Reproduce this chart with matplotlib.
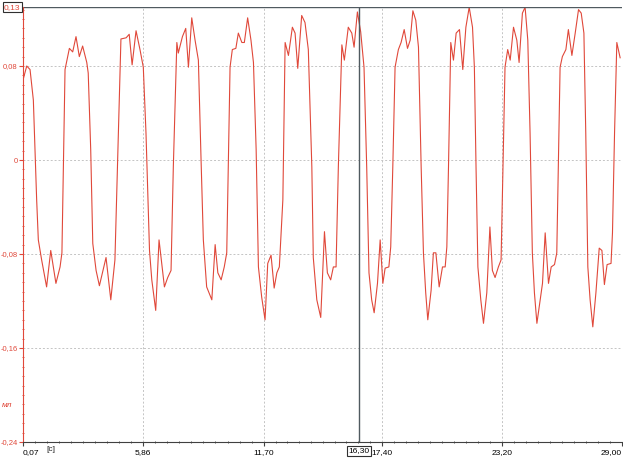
import numpy as np
import matplotlib
matplotlib.use('Agg')
import matplotlib.pyplot as plt

plt.rcParams['font.family'] = ['Liberation Sans Narrow', 'Liberation Sans', 'DejaVu Sans']

# время, с
t = [0.07, 0.25, 0.41, 0.57, 0.73, 0.81, 0.97, 1.21, 1.41, 1.66, 1.86, 1.95, 2.02, 2.10,
     2.31, 2.47, 2.63, 2.79, 2.95, 3.15, 3.22, 3.34, 3.44, 3.60, 3.76, 4.08, 4.31, 4.51,
     4.63, 4.76, 4.80, 5.05, 5.20, 5.34, 5.53, 5.72, 5.88, 6.01, 6.18, 6.29, 6.48, 6.64,
     6.90, 7.06, 7.22, 7.33, 7.50, 7.57, 7.77, 7.93, 8.06, 8.22, 8.38, 8.54, 8.67, 8.78,
     8.94, 9.19, 9.35, 9.48, 9.64, 9.79, 9.91, 9.99, 10.07, 10.18, 10.35, 10.47, 10.64,
     10.76, 10.92, 11.08, 11.20, 11.33, 11.44, 11.60, 11.76, 11.89, 12.05, 12.20, 12.33,
     12.45, 12.62, 12.73, 12.89, 13.08, 13.21, 13.34, 13.53, 13.69, 13.85, 14.02, 14.09,
     14.26, 14.45, 14.63, 14.77, 14.93, 15.06, 15.19, 15.30, 15.47, 15.59, 15.78, 15.95,
     16.06, 16.22, 16.38, 16.54, 16.67, 16.78, 16.91, 17.03, 17.19, 17.32, 17.45, 17.56,
     17.74, 17.83, 17.93, 18.04, 18.20, 18.33, 18.48, 18.64, 18.77, 18.90, 19.04, 19.17,
     19.30, 19.41, 19.52, 19.62, 19.78, 19.89, 20.01, 20.17, 20.33, 20.46, 20.54, 20.62,
     20.73, 20.86, 20.99, 21.15, 21.31, 21.46, 21.62, 21.78, 21.87, 21.95, 22.04, 22.18,
     22.31, 22.47, 22.62, 22.74, 22.87, 23.03, 23.16, 23.22, 23.35, 23.48, 23.60, 23.76,
     23.92, 24.03, 24.19, 24.32, 24.45, 24.56, 24.67, 24.77, 24.89, 25.05, 25.16, 25.29,
     25.45, 25.58, 25.74, 25.85, 25.93, 26.01, 26.12, 26.29, 26.41, 26.58, 26.74, 26.90,
     27.03, 27.16, 27.25, 27.35, 27.46, 27.59, 27.74, 27.90, 28.03, 28.15, 28.28, 28.47,
     28.54, 28.64, 28.75, 28.91]
v = [0.068, 0.080, 0.077, 0.051, -0.034, -0.068, -0.085, -0.108, -0.077, -0.105, -0.091,
     -0.079, -0.006, 0.077, 0.095, 0.092, 0.105, 0.088, 0.097, 0.083, 0.074, 0.009, -0.071,
     -0.094, -0.107, -0.083, -0.119, -0.085, -0.006, 0.079, 0.103, 0.104, 0.107, 0.081,
     0.110, 0.094, 0.079, 0.023, -0.077, -0.102, -0.128, -0.068, -0.108, -0.100, -0.094,
     -0.006, 0.100, 0.091, 0.105, 0.112, 0.079, 0.121, 0.102, 0.085, 0.0, -0.068, -0.108,
     -0.119, -0.072, -0.096, -0.102, -0.091, -0.079, 0.0, 0.079, 0.094, 0.095, 0.108,
     0.100, 0.100, 0.121, 0.102, 0.083, 0.009, -0.091, -0.117, -0.136, -0.088, -0.081,
     -0.109, -0.096, -0.091, -0.034, 0.100, 0.089, 0.113, 0.108, 0.078, 0.123, 0.117,
     0.094, -0.006, -0.083, -0.119, -0.134, -0.061, -0.096, -0.102, -0.091, -0.091,
     -0.006, 0.098, 0.085, 0.113, 0.108, 0.096, 0.126, 0.109, 0.079, -0.006, -0.096,
     -0.119, -0.130, -0.105, -0.068, -0.105, -0.092, -0.091, -0.074, -0.006, 0.079,
     0.094, 0.100, 0.111, 0.095, 0.102, 0.127, 0.119, 0.096, -0.006, -0.079, -0.113,
     -0.136, -0.111, -0.079, -0.079, -0.108, -0.091, -0.091, -0.074, -0.006, 0.100,
     0.085, 0.108, 0.111, 0.077, 0.113, 0.130, 0.113, 0.079, -0.006, -0.091, -0.119,
     -0.139, -0.113, -0.057, -0.094, -0.100, -0.091, -0.085, -0.034, 0.079, 0.094, 0.085,
     0.113, 0.102, 0.083, 0.125, 0.130, 0.102, 0.023, -0.079, -0.113, -0.139, -0.119,
     -0.105, -0.062, -0.105, -0.091, -0.089, -0.079, 0.0, 0.079, 0.088, 0.094, 0.111,
     0.089, 0.108, 0.128, 0.125, 0.108, 0.023, -0.091, -0.119, -0.142, -0.113, -0.075,
     -0.077, -0.106, -0.089, -0.088, -0.062, 0.023, 0.100, 0.087]

x_ticks = [0.07, 5.86, 11.70, 17.40, 23.20, 29.00]
x_labels = ['0,07', '5,86', '11,70', '17,40', '23,20', '29,00']
y_ticks = [0.08, 0.0, -0.08, -0.16, -0.24]
y_labels = ['0,08', '0', '-0,08', '-0,16', '-0,24']
cursor_t = 16.30
cursor_v = 0.13

red = '#e0483a'
gray = '#c4c4c4'

fig = plt.figure(figsize=(6.23, 4.61), dpi=100)
ax = fig.add_axes([23 / 623, 1 - 442 / 461, 599 / 623, (442 - 7.25) / 461])
ax.set_xlim(0.07, 29.00)
ax.set_ylim(-0.24, 0.13)

ax.plot(t, v, color=red, lw=0.8)

# сетка
for xv in x_ticks[1:-1]:
    ax.axvline(xv, color=gray, ls=(0, (2, 2)), lw=0.7, zorder=0)
for yv in y_ticks[:-1]:
    ax.axhline(yv, color=gray, ls=(0, (2, 2)), lw=0.7, zorder=0)

# курсоры
ax.axvline(cursor_t, color='#505a60', lw=1.0)
ax.axhline(cursor_v, color='#505a60', lw=1.0)

for s in ['top', 'right']:
    ax.spines[s].set_visible(False)
ax.spines['left'].set_color(red)
ax.spines['bottom'].set_color('#404040')

ax.set_xticks(x_ticks)
ax.set_xticklabels(x_labels, fontsize=6)
labs = ax.get_xticklabels()
labs[0].set_ha('left')
labs[-1].set_ha('right')
steps = np.diff(x_ticks)
x_minor = [x_ticks[i] + steps[i] * k / 10 for i in range(len(steps)) for k in range(1, 10)]
ax.set_xticks(x_minor, minor=True)
ax.tick_params(axis='x', which='major', length=3, direction='out', color='#404040', pad=2)
ax.tick_params(axis='x', which='minor', length=1.5, direction='inout', color='#404040')

ax.set_yticks(y_ticks)
ax.set_yticklabels(y_labels, fontsize=5.5, color=red)
ax.set_yticks(np.arange(-0.24, 0.1301, 0.008), minor=True)
ax.tick_params(axis='y', which='major', length=3, direction='out', color=red, pad=1)
ax.tick_params(axis='y', which='minor', length=2, direction='inout', color=red)

ax.text(1.2, -0.2435, '[c]', fontsize=6, ha='left', va='top', clip_on=False,
        color='#202020')

ax.text(-0.036, 0.085, 'мл', fontsize=6, color=red, style='italic', ha='left',
        va='center', transform=ax.transAxes)

ax.text(cursor_t, -0.2445, '16,30', fontsize=6, ha='center', va='top',
        bbox=dict(boxstyle='square,pad=0.15', fc='white', ec='#303030', lw=0.8),
        clip_on=False)
ax.text(-0.032, 1.0, '0,13', fontsize=6, ha='left', va='center', color=red,
        transform=ax.transAxes,
        bbox=dict(boxstyle='square,pad=0.15', fc='white', ec='#303030', lw=0.8))

fig.savefig('out.png', dpi=100)
